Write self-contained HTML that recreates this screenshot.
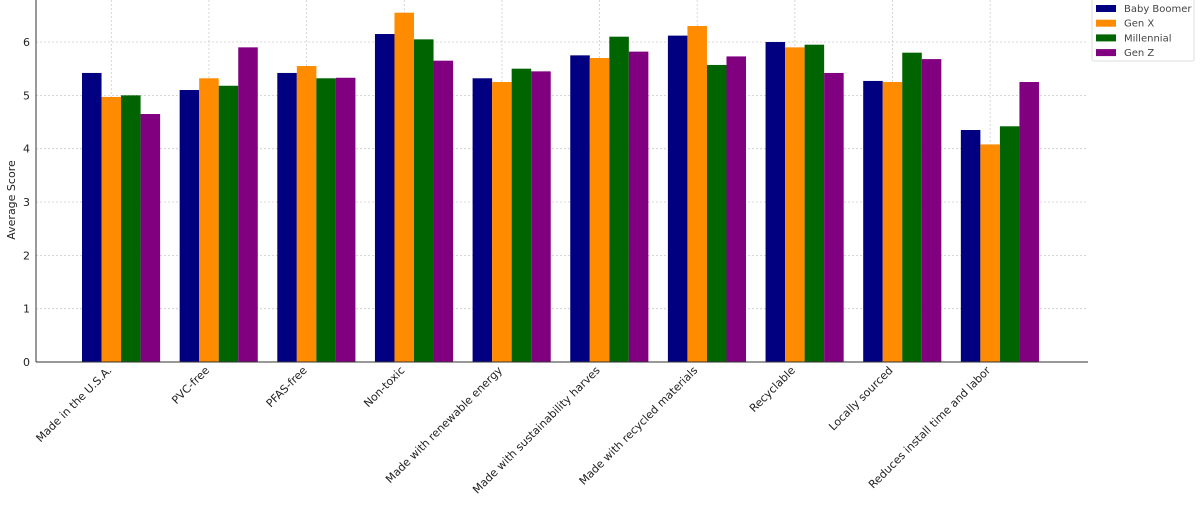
<!DOCTYPE html>
<html><head><meta charset="utf-8"><style>
html,body{margin:0;padding:0;background:#fff;}
svg{display:block;font-family:"DejaVu Sans","Liberation Sans",sans-serif;}
</style></head><body>
<svg id="chart" width="1200" height="509" viewBox="0 0 1200 509">
<g id="grid"></g>
<g id="bars"></g>
<g id="axes"></g>
<text transform="translate(15,200) rotate(-90)" text-anchor="middle" font-size="11" fill="#222">Average Score</text>
<g>
<rect x="1092" y="-1" width="102" height="62" fill="#fff" stroke="#ddd" rx="2"/>
<g id="legend-items"></g>
</g>
</svg>
<script>
const categories = ["Made in the U.S.A.","PVC-free","PFAS-free","Non-toxic","Made with renewable energy","Made with sustainability harves","Made with recycled materials","Recyclable","Locally sourced","Reduces install time and labor"];
const seriesNames = ["Baby Boomer","Gen X","Millennial","Gen Z"];
const babyBoomer = [5.42,5.10,5.42,6.15,5.32,5.75,6.12,6.00,5.27,4.35];
const genX = [4.97,5.32,5.55,6.55,5.25,5.70,6.30,5.90,5.25,4.08];
const millennial = [5.00,5.18,5.32,6.05,5.50,6.10,5.57,5.95,5.80,4.42];
const genZ = [4.65,5.90,5.33,5.65,5.45,5.82,5.73,5.42,5.68,5.25];
const yTicks = [0,1,2,3,4,5,6];
const colors = ["#000080","#ff8c00","#006400","#800080"];
const series = [babyBoomer, genX, millennial, genZ];

const NS = "http://www.w3.org/2000/svg";
const plotL = 36, plotR = 1088, plotB = 362, plotT = 0;
const groupW = 97.65, barW = groupW*0.2, x0 = 82;
function yScale(v){ return plotB - v*53.33; }
function groupLeft(i){ return x0 + i*groupW; }
function tickX(i){ return groupLeft(i) + 1.5*barW; }
function mk(tag, attrs, parent){ const e=document.createElementNS(NS,tag); for(const k in attrs) e.setAttribute(k,attrs[k]); parent.appendChild(e); return e; }

const gridG = document.getElementById('grid');
const barsG = document.getElementById('bars');
const axesG = document.getElementById('axes');

yTicks.forEach(t=>{
  const y=yScale(t);
  if(t>0){
    const l=mk('line',{x1:plotL,x2:plotR,y1:y,y2:y,stroke:'#ccc','stroke-dasharray':'2,2','stroke-width':0.8},gridG);
    
    
  }
  const tx=mk('text',{x:plotL-6,y:y+4,'text-anchor':'end','font-size':11,fill:'#222'},axesG);
  tx.textContent=t;
  
  
});
categories.forEach((c,i)=>{
  const x=tickX(i);
  const l=mk('line',{x1:x,x2:x,y1:plotT,y2:plotB,stroke:'#ccc','stroke-dasharray':'2,2','stroke-width':0.8},gridG);
  
  
  const tx=mk('text',{transform:`translate(${x+1},${plotB+9}) rotate(-45)`,'text-anchor':'end','font-size':11,fill:'#222'},axesG);
  tx.textContent=c;
  
  
  series.forEach((s,j)=>{
    const y=yScale(s[i]);
    const r=mk('rect',{x:groupLeft(i)+j*barW,y:y,width:barW,height:plotB-y,fill:colors[j]},barsG);
    
    
  });
});
const ax=mk('line',{x1:plotL,x2:plotL,y1:plotT,y2:plotB,stroke:'#333','stroke-width':1},axesG);


const bx=mk('line',{x1:plotL,x2:plotR,y1:plotB,y2:plotB,stroke:'#333','stroke-width':1},axesG);



const legendItems=document.getElementById('legend-items');
seriesNames.forEach((n,j)=>{
  const y=8+j*14.7;
  const r=mk('rect',{x:1096,y:y-3,width:20,height:7,fill:colors[j]},legendItems);
  
  
  const t=mk('text',{x:1124,y:y+4,'font-size':10,fill:'#444'},legendItems);
  t.textContent=n;
  
  
});
</script>
</body></html>
